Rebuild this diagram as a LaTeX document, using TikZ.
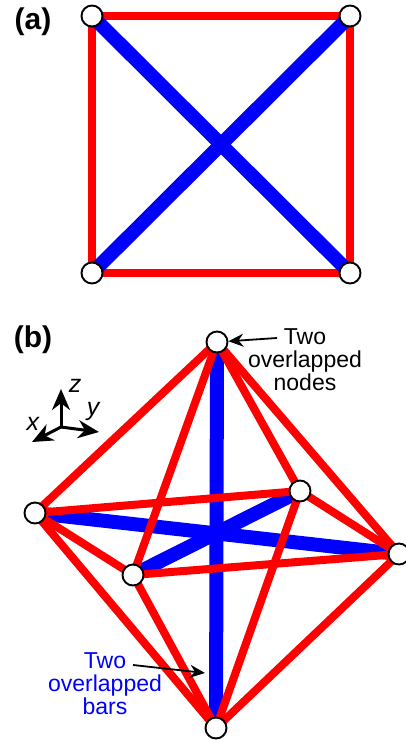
\documentclass[tikz,border=0pt]{standalone}
\usepackage{fontspec}
\setmainfont{Liberation Sans}
\usetikzlibrary{arrows.meta}

\tikzset{
  joint/.style={circle,draw=black,fill=white,line width=1.9pt,minimum size=21pt,inner sep=0pt},
  cable/.style={draw=red,line width=8pt},
  strut/.style={draw=blue,line width=14pt},
  pointer/.style={-{Stealth[length=15pt,width=13pt]},line width=1.8pt},
  axis/.style={-{Stealth[length=21pt,width=18pt]},line width=3pt},
  panel/.style={font=\fontsize{30}{30}\selectfont\bfseries},
  remark/.style={font=\fontsize{23}{23}\selectfont,align=center},
  axislabel/.style={font=\fontsize{25}{25}\selectfont\itshape}
}

\begin{document}
\begin{tikzpicture}[x=1pt,y=-1pt]
\useasboundingbox (0,0) rectangle (405,740);
% (a)
\node[panel] (la) at (33,22) {(a)};
\coordinate (a1) at (92,16);
\coordinate (a2) at (350,16);
\coordinate (a3) at (350,273);
\coordinate (a4) at (92,273);
\draw[cable] (a1) -- (a2);
\draw[cable] (a2) -- (a3);
\draw[cable] (a3) -- (a4);
\draw[cable] (a4) -- (a1);
\draw[strut] (a1) -- (a3);
\draw[strut] (a2) -- (a4);
\node[joint] (n1) at (a1) {};
\node[joint] (n2) at (a2) {};
\node[joint] (n3) at (a3) {};
\node[joint] (n4) at (a4) {};
% (b)
\node[panel] (lb) at (33,340) {(b)};
\coordinate (top) at (217,342);
\coordinate (left) at (35,513);
\coordinate (right) at (399,554);
\coordinate (back) at (300,491);
\coordinate (front) at (133,575);
\coordinate (bottom) at (216,728);
% bars first, the cables run over them
\draw[strut] (top) -- (bottom);
\draw[strut] (left) -- (right);
\draw[strut] (front) -- (back);
\draw[cable] (top) -- (left);
\draw[cable] (top) -- (front);
\draw[cable] (top) -- (back);
\draw[cable] (top) -- (right);
\draw[cable] (left) -- (back);
\draw[cable] (left) -- (front);
\draw[cable] (left) -- (bottom);
\draw[cable] (front) -- (right);
\draw[cable] (front) -- (bottom);
\draw[cable] (back) -- (right);
\draw[cable] (back) -- (bottom);
\draw[cable] (right) -- (bottom);
\node[joint] (ntop) at (top) {};
\node[joint] (nleft) at (left) {};
\node[joint] (nright) at (right) {};
\node[joint] (nback) at (back) {};
\node[joint] (nfront) at (front) {};
\node[joint] (nbottom) at (bottom) {};
% axes
\coordinate (o) at (61,427);
\coordinate (zt) at (61,389);
\coordinate (yt) at (99,432);
\coordinate (xt) at (32,442);
\draw[axis] (o) -- (zt);
\draw[axis] (o) -- (yt);
\draw[axis] (o) -- (xt);
\node[axislabel] (zl) at (75,386) {z};
\node[axislabel] (yl) at (93,411) {y};
\node[axislabel] (xl) at (33,424) {x};
% notes
\node[remark] (note1) at (305,360) {Two\\overlapped\\nodes};
\coordinate (p1) at (277,338);
\draw[pointer] (p1) -- (ntop);
\node[remark,text=blue] (note2) at (105,684) {Two\\overlapped\\bars};
\coordinate (p2) at (133,665);
\coordinate (p3) at (205,673);
\draw[pointer] (p2) -- (p3);
\end{tikzpicture}
\end{document}
